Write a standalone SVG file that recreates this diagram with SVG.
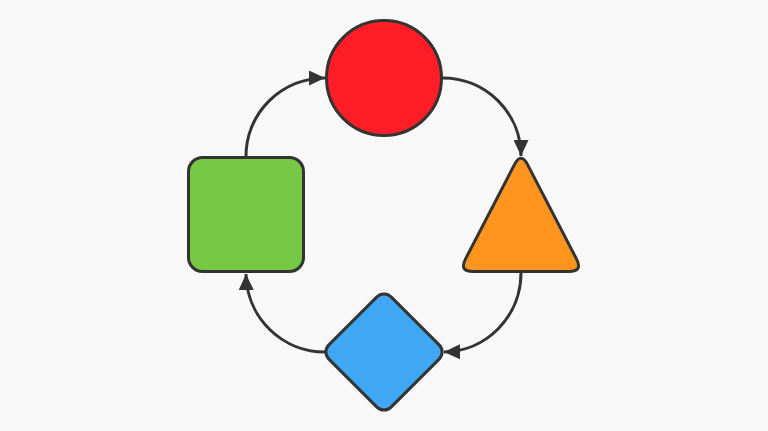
<svg xmlns="http://www.w3.org/2000/svg" width="768" height="431" viewBox="0 0 768 431">
<defs>
<style>
.shape{stroke:#333333;stroke-width:3;stroke-linejoin:round}
.conn{fill:none;stroke:#333333;stroke-width:3}
</style>
<marker id="arr" markerUnits="userSpaceOnUse" markerWidth="17" markerHeight="15" refX="16" refY="7.5" orient="auto">
<path d="M0,0 L16,7.5 L0,15 Z" fill="#333333"/>
</marker>
</defs>
<rect width="768" height="431" fill="#f8f8f8"/>
<g id="connectors">
<path class="conn" d="M246,156 A79,78 0 0 1 325,78" marker-end="url(#arr)"/>
<path class="conn" d="M443,78 A78,78 0 0 1 521,156" marker-end="url(#arr)"/>
<path class="conn" d="M521,273 A78,79 0 0 1 444,352" marker-end="url(#arr)"/>
<path class="conn" d="M325,352 A79,79 0 0 1 246,274" marker-end="url(#arr)"/>
</g>
<g id="circle">
<circle class="shape" cx="384" cy="78" r="57.5" fill="#ff1e27"/>
</g>
<g id="triangle">
<path class="shape" fill="#ff951f" d="M514.55,164.43 Q521,152 527.45,164.43 L576.55,259.07 Q583,271.5 569,271.5 L473,271.5 Q459,271.5 465.45,259.07 Z"/>
</g>
<g id="square">
<rect class="shape" x="188.5" y="157.5" width="115" height="114" rx="14" fill="#77c845"/>
</g>
<g id="diamond">
<rect class="shape" x="-44" y="-44" width="88" height="88" rx="10" fill="#3fa7f3" transform="translate(384,352) rotate(45)"/>
</g>
</svg>
